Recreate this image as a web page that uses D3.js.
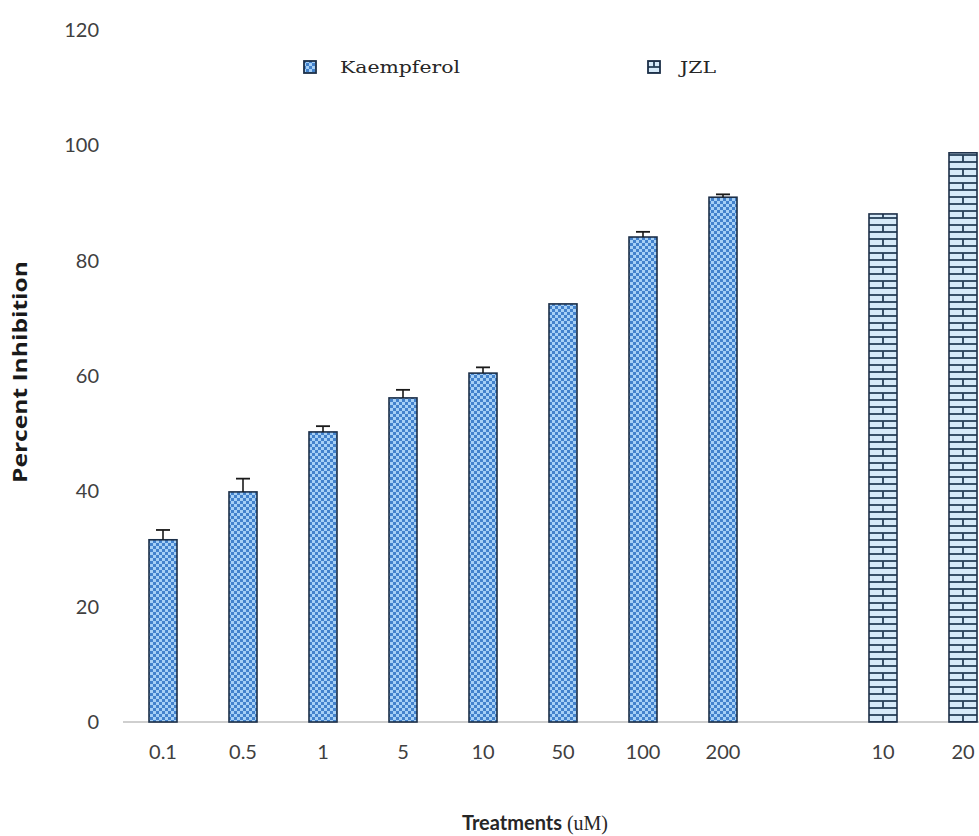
<!DOCTYPE html>
<html>
<head>
<meta charset="utf-8">
<script src="https://cdn.jsdelivr.net/npm/d3@7"></script>
<style>
  html, body { margin: 0; padding: 0; background: #fff; }
  svg { display: block; }
</style>
</head>
<body>
<svg id="chart" width="979" height="836"></svg>
<script>
// data
const kaempDoses = ["0.1", "0.5", "1", "5", "10", "50", "100", "200"];
const kaempValues = [31.6, 39.9, 50.3, 56.2, 60.5, 72.5, 84.1, 91.0];
const kaempErrors = [1.7, 2.3, 1.0, 1.4, 1.0, 0, 0.9, 0.5];
const jzlDoses = ["10", "20"];
const jzlValues = [88.1, 98.7];
const yTicks = [0, 20, 40, 60, 80, 100, 120];

const W = 979, H = 836;
const svg = d3.select("#chart");
const defs = svg.append("defs");

// category keys: kaempferol doses, one empty slot, then JZL doses
const keys = kaempDoses.map(d => "K" + d).concat(["gap"], jzlDoses.map(d => "J" + d));
const labelOf = k => k === "gap" ? "" : k.slice(1);

const x = d3.scaleBand().domain(keys).range([123, 1003]).paddingInner(0.65).paddingOuter(0.325);
const y = d3.scaleLinear().domain([0, 120]).range([722, 30]);

// checkerboard dots for kaempferol
const chk = defs.append("pattern").attr("id", "chk")
  .attr("patternUnits", "userSpaceOnUse").attr("width", 6).attr("height", 6);
chk.append("rect").attr("width", 6).attr("height", 6).attr("fill", "#4382cc");
chk.append("rect").attr("x", 0).attr("y", 0).attr("width", 3).attr("height", 3).attr("fill", "#a6d0f6");
chk.append("rect").attr("x", 3).attr("y", 3).attr("width", 3).attr("height", 3).attr("fill", "#a6d0f6");

// brick pattern for JZL, one per bar so the joints sit on the bar
function brick(id, x0, w, h) {
  const p = defs.append("pattern").attr("id", id)
    .attr("patternUnits", "userSpaceOnUse").attr("x", x0).attr("y", 0)
    .attr("width", w).attr("height", h * 2);
  p.append("rect").attr("width", w).attr("height", h * 2).attr("fill", "#d6eaf9");
  const st = "#263f58";
  p.append("line").attr("x1", 0).attr("x2", w).attr("y1", 1).attr("y2", 1)
    .attr("stroke", st).attr("stroke-width", 1.8);
  p.append("line").attr("x1", 0).attr("x2", w).attr("y1", h + 1).attr("y2", h + 1)
    .attr("stroke", st).attr("stroke-width", 1.8);
  p.append("line").attr("x1", w / 2).attr("x2", w / 2).attr("y1", 1).attr("y2", h + 1)
    .attr("stroke", st).attr("stroke-width", 1.8);
  return "url(#" + id + ")";
}

// y tick labels (no axis line)
svg.append("g").selectAll("text").data(yTicks).join("text")
  .attr("x", 99).attr("y", d => y(d)).attr("dy", "0.35em")
  .attr("text-anchor", "end")
  .style("font-family", "Lato, 'Open Sans', sans-serif").style("font-size", "20px")
  .style("fill", "#404040")
  .text(d => d);

// x axis baseline
svg.append("line").attr("x1", 123).attr("x2", W).attr("y1", y(0)).attr("y2", y(0))
  .attr("stroke", "#bfbfbf").attr("stroke-width", 1.5);

// x tick labels
svg.append("g").selectAll("text").data(keys).join("text")
  .attr("x", d => x(d) + x.bandwidth() / 2).attr("y", 752).attr("dy", "0.35em")
  .attr("text-anchor", "middle")
  .style("font-family", "Lato, 'Open Sans', sans-serif").style("font-size", "20px")
  .style("fill", "#404040")
  .text(labelOf);

// kaempferol bars
const kData = kaempDoses.map((d, i) => ({ key: "K" + d, value: kaempValues[i], err: kaempErrors[i] }));
svg.append("g").selectAll("rect").data(kData).join("rect")
  .attr("x", d => x(d.key)).attr("y", d => y(d.value))
  .attr("width", x.bandwidth()).attr("height", d => y(0) - y(d.value))
  .attr("fill", "url(#chk)").attr("stroke", "#1c2f48").attr("stroke-width", 1.6);

// error bars (upper half)
const eb = svg.append("g").selectAll("g").data(kData.filter(d => d.err > 0)).join("g");
eb.append("line")
  .attr("x1", d => x(d.key) + x.bandwidth() / 2).attr("x2", d => x(d.key) + x.bandwidth() / 2)
  .attr("y1", d => y(d.value)).attr("y2", d => y(d.value + d.err))
  .attr("stroke", "#1a1a1a").attr("stroke-width", 1.6);
eb.append("line")
  .attr("x1", d => x(d.key) + x.bandwidth() / 2 - 7).attr("x2", d => x(d.key) + x.bandwidth() / 2 + 7)
  .attr("y1", d => y(d.value + d.err)).attr("y2", d => y(d.value + d.err))
  .attr("stroke", "#1a1a1a").attr("stroke-width", 1.8);

// JZL bars
const jData = jzlDoses.map((d, i) => ({ key: "J" + d, value: jzlValues[i] }));
svg.append("g").selectAll("rect").data(jData).join("rect")
  .attr("x", d => x(d.key)).attr("y", d => y(d.value))
  .attr("width", x.bandwidth()).attr("height", d => y(0) - y(d.value))
  .attr("fill", (d, i) => brick("brick" + i, x(d.key), x.bandwidth(), 7))
  .attr("stroke", "#1c2f48").attr("stroke-width", 1.6);

// legend
const legend = [
  { name: "Kaempferol", fill: "url(#chk)", sx: 304, tx: 340, len: 120 },
  { name: "JZL", fill: brick("brickLeg", 648, 12, 6), sx: 648, tx: 680, len: 36 }
];
const lg = svg.append("g").selectAll("g").data(legend).join("g");
lg.append("rect").attr("x", d => d.sx).attr("y", 61).attr("width", 12).attr("height", 12)
  .attr("fill", d => d.fill).attr("stroke", "#1c2f48").attr("stroke-width", 1.8);
lg.append("text").attr("x", d => d.tx).attr("y", 73)
  .attr("textLength", d => d.len).attr("lengthAdjust", "spacingAndGlyphs")
  .style("font-family", "'DejaVu Serif', serif").style("font-size", "17px")
  .style("fill", "#262626")
  .text(d => d.name);

// axis titles
svg.append("text")
  .attr("transform", "translate(27,372) rotate(-90)")
  .attr("text-anchor", "middle")
  .attr("textLength", 222).attr("lengthAdjust", "spacingAndGlyphs")
  .style("font-family", "'Liberation Sans Narrow', 'Open Sans', sans-serif")
  .style("font-size", "20px").style("font-weight", "700").style("fill", "#1a1a1a")
  .text("Percent Inhibition");

const xt = svg.append("text").attr("x", 535).attr("y", 830).attr("text-anchor", "middle")
  .style("font-size", "20px").style("fill", "#262626");
xt.append("tspan").style("font-family", "Lato, 'Open Sans', sans-serif").style("font-weight", "700")
  .text("Treatments ");
xt.append("tspan").style("font-family", "'Liberation Serif', serif").text("(uM)");
</script>
</body>
</html>
